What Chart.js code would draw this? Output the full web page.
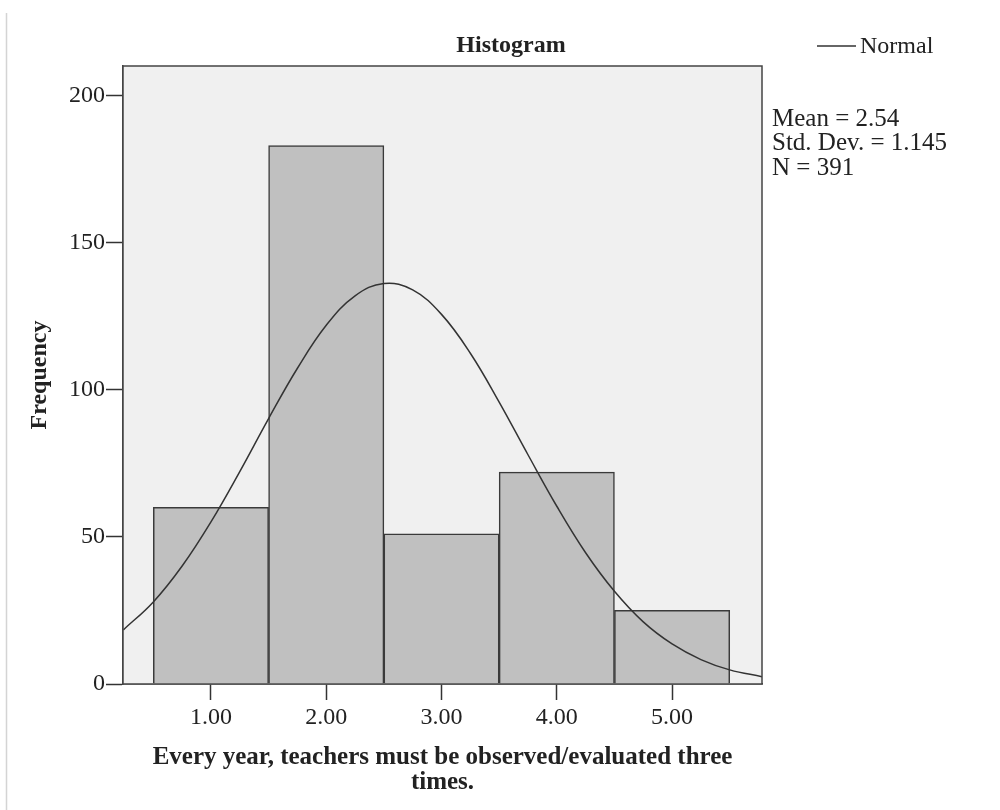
<!DOCTYPE html>
<html lang="en">
<head>
    <meta charset="UTF-8">
    <title>Histogram</title>
    <script src="https://cdn.jsdelivr.net/npm/chart.js"></script>
    <style>
        html, body { margin: 0; padding: 0; background: #fff; }
        #wrap { width: 1000px; height: 810px; position: relative; }
    </style>
</head>
<body>
    <div id="wrap"><canvas id="histChart" width="1000" height="810"></canvas></div>

    <script>
        // Frequencies per response value
        const binCenters = [1, 2, 3, 4, 5];
        const frequencies = [60, 183, 51, 72, 25];

        // Normal curve overlay, read along the x axis
        const curveX = [0.24, 0.5, 0.75, 1.0, 1.25, 1.5, 1.75, 2.0, 2.25, 2.5, 2.75, 3.0, 3.25, 3.5, 3.75, 4.0, 4.25, 4.5, 4.75, 5.0, 5.25, 5.5, 5.78];
        const curveY = [18.4, 27.9, 40.1, 55.1, 72.2, 90.2, 107.3, 121.9, 131.9, 136.1, 133.9, 125.6, 112.4, 95.8, 77.9, 60.4, 44.6, 31.5, 21.1, 13.6, 8.3, 4.8, 2.5];

        const statLines = ['Mean = 2.54', 'Std. Dev. = 1.145', 'N = 391'];
        const xTickValues = [1, 2, 3, 4, 5];
        const yTickValues = [0, 50, 100, 150, 200];

        const serif = '"Liberation Serif", "Times New Roman", serif';
        const ink = '#222';
        const fontSize = 24;

        // Light plot background, frame, title, legend and summary text
        const decorations = {
            id: 'decorations',
            beforeDatasetsDraw(chart) {
                const { ctx, chartArea: a } = chart;
                ctx.save();
                ctx.fillStyle = '#f0f0f0';
                ctx.fillRect(a.left, a.top, a.right - a.left, a.bottom - a.top);
                ctx.restore();
            },
            afterDraw(chart) {
                const { ctx, chartArea: a } = chart;
                ctx.save();
                // thin page edge on the left
                ctx.strokeStyle = '#d4d4d4';
                ctx.lineWidth = 1.5;
                ctx.beginPath();
                ctx.moveTo(6.5, 13);
                ctx.lineTo(6.5, 810);
                ctx.stroke();

                ctx.strokeStyle = '#444';
                ctx.lineWidth = 1.5;
                ctx.strokeRect(a.left, a.top, a.right - a.left, a.bottom - a.top);

                ctx.fillStyle = ink;
                ctx.textBaseline = 'middle';
                ctx.font = 'bold ' + fontSize + 'px ' + serif;
                ctx.textAlign = 'center';
                ctx.fillText('Histogram', 511, 46);

                // legend
                ctx.strokeStyle = '#333';
                ctx.lineWidth = 1.5;
                ctx.beginPath();
                ctx.moveTo(817, 46);
                ctx.lineTo(856, 46);
                ctx.stroke();
                ctx.font = fontSize + 'px ' + serif;
                ctx.textAlign = 'left';
                ctx.fillText('Normal', 860, 47);

                ctx.font = '25px ' + serif;
                statLines.forEach((t, i) => ctx.fillText(t, 772, 119 + i * 24.5));
                ctx.restore();
            }
        };

        const ctx = document.getElementById('histChart').getContext('2d');
        new Chart(ctx, {
            type: 'bar',
            data: {
                datasets: [{
                    type: 'line',
                    label: 'Normal',
                    data: curveX.map((x, i) => ({ x: x, y: curveY[i] })),
                    borderColor: '#333',
                    borderWidth: 1.5,
                    pointRadius: 0,
                    tension: 0.4,
                    fill: false,
                    order: 0
                }, {
                    type: 'bar',
                    label: 'Frequency',
                    data: binCenters.map((x, i) => ({ x: x, y: frequencies[i] })),
                    backgroundColor: '#c0c0c0',
                    borderColor: '#3a3a3a',
                    borderWidth: 1.5,
                    barPercentage: 1,
                    categoryPercentage: 1,
                    order: 1
                }]
            },
            options: {
                responsive: false,
                animation: false,
                layout: { padding: { top: 66, right: 238, left: 0, bottom: 0 } },
                plugins: {
                    legend: { display: false },
                    tooltip: { enabled: false }
                },
                scales: {
                    x: {
                        type: 'linear',
                        min: 0.237,
                        max: 5.78,
                        offset: false,
                        afterBuildTicks: s => { s.ticks = xTickValues.map(v => ({ value: v })); },
                        afterFit: s => { s.height = 810 - 684; },
                        grid: { display: true, offset: false, drawOnChartArea: false, tickLength: 16, tickColor: '#333', tickWidth: 1.5 },
                        border: { display: true, color: '#444', width: 1.5 },
                        ticks: {
                            color: ink,
                            font: { family: serif, size: fontSize },
                            padding: 3,
                            maxRotation: 0,
                            callback: v => Number(v).toFixed(2)
                        },
                        title: {
                            display: true,
                            text: ['Every year, teachers must be observed/evaluated three', 'times.'],
                            color: ink,
                            font: { family: serif, size: 25, weight: 'bold', lineHeight: 1.0 },
                            padding: { top: 8, bottom: 15 }
                        }
                    },
                    y: {
                        min: 0,
                        max: 210,
                        afterBuildTicks: s => { s.ticks = yTickValues.map(v => ({ value: v })); },
                        afterFit: s => { s.width = 123; },
                        grid: { display: true, drawOnChartArea: false, tickLength: 17, tickColor: '#333', tickWidth: 1.5 },
                        border: { display: true, color: '#444', width: 1.5 },
                        ticks: {
                            color: ink,
                            font: { family: serif, size: fontSize },
                            padding: 1
                        },
                        title: {
                            display: true,
                            text: 'Frequency',
                            color: ink,
                            font: { family: serif, size: fontSize, weight: 'bold' },
                            padding: { top: 25, bottom: 0 }
                        }
                    }
                }
            },
            plugins: [decorations]
        });
    </script>
</body>
</html>
